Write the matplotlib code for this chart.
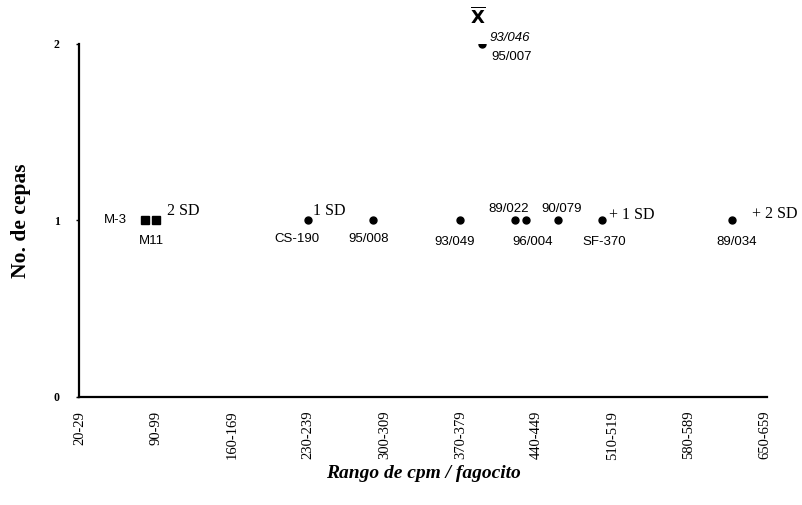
import matplotlib.pyplot as plt

# cpm / phagocyte classes, 10 cpm wide, from 20-29 to 650-659
range_labels = [f"{lo}-{lo + 9}" for lo in range(20, 660, 10)]
shown_labels = ["20-29", "90-99", "160-169", "230-239", "300-309",
                "370-379", "440-449", "510-519", "580-589", "650-659"]

# strains and the class each one falls in
strain_names = ["M-3", "M11", "CS-190", "95/008", "93/049", "93/046 95/007",
                "89/022", "96/004", "90/079", "SF-370", "89/034"]
strain_ranges = ["80-89", "90-99", "230-239", "290-299", "370-379", "390-399",
                 "420-429", "430-439", "460-469", "500-509", "620-629"]
strain_counts = [1, 1, 1, 1, 1, 2, 1, 1, 1, 1, 1]
square_strains = ["M-3", "M11"]

# mean and standard deviation marks
mean_range = "390-399"
sd_labels = ["2 SD", "1 SD", "+ 1 SD", "+ 2 SD"]
sd_ranges = ["90-99", "230-239", "500-509", "620-629"]

xpos = {lab: i for i, lab in enumerate(range_labels)}

fig = plt.figure(figsize=(8.03, 5.05), dpi=100)
ax = fig.add_axes([0.0984, 0.2139, 0.8566, 0.699])

for name, rng, cnt in zip(strain_names, strain_ranges, strain_counts):
    if name in square_strains:
        ax.plot(xpos[rng], cnt, marker="s", ms=6, color="black", ls="none")
    else:
        ax.plot(xpos[rng], cnt, marker="o", ms=5, color="black", ls="none")

sans = dict(family="Liberation Sans", fontsize=9.5, color="black")
serif = dict(family="Liberation Serif", fontsize=11.5, color="black")

# strain name offsets in pixels: (dx, dy, ha)
label_pos = {
    "M-3": (-18, 0, "right"),
    "M11": (-5, -21, "center"),
    "CS-190": (-11, -19, "center"),
    "95/008": (-5, -19, "center"),
    "93/049": (-6, -22, "center"),
    "89/022": (-6, 11, "center"),
    "96/004": (7, -22, "center"),
    "90/079": (3, 11, "center"),
    "SF-370": (3, -22, "center"),
    "89/034": (5, -22, "center"),
}
for name, rng, cnt in zip(strain_names, strain_ranges, strain_counts):
    if name in label_pos:
        dx, dy, ha = label_pos[name]
        ax.annotate(name, (xpos[rng], cnt), xytext=(dx, dy),
                    textcoords="offset pixels", ha=ha, va="center", **sans)
    else:
        top, bottom = name.split()
        ax.annotate(top, (xpos[rng], cnt), xytext=(7, 6),
                    textcoords="offset pixels", ha="left", va="center",
                    style="italic", **sans)
        ax.annotate(bottom, (xpos[rng], cnt), xytext=(9, -13),
                    textcoords="offset pixels", ha="left", va="center", **sans)

sd_offsets = [(11, 9), (5, 9), (7, 5), (20, 6)]
for lab, rng, (dx, dy) in zip(sd_labels, sd_ranges, sd_offsets):
    ax.annotate(lab, (xpos[rng], 1), xytext=(dx, dy),
                textcoords="offset pixels", ha="left", va="center", **serif)

ax.annotate(r"$\overline{\mathsf{\mathbf{X}}}$", (xpos[mean_range], 2),
            xytext=(-4, 27), textcoords="offset pixels", ha="center",
            va="center", fontsize=13, annotation_clip=False)

ax.set_xlim(-0.1, 63.2)
ax.set_ylim(0, 2)
ax.set_xticks([xpos[l] for l in shown_labels])
ax.set_xticklabels(shown_labels, rotation=90, family="Liberation Serif",
                   fontsize=10.5)
ax.set_yticks([0, 1, 2])
ax.set_yticklabels(["0", "1", "2"], family="Liberation Serif",
                   fontsize=8.5, fontweight="bold")
ax.tick_params(axis="x", length=0, pad=10)
ax.tick_params(axis="y", length=2, width=1, pad=12)

for side in ["top", "right"]:
    ax.spines[side].set_visible(False)
for side in ["left", "bottom"]:
    ax.spines[side].set_linewidth(1.6)

ax.set_xlabel("Rango de cpm / fagocito", family="Liberation Serif",
              fontsize=14, fontweight="bold", style="italic", labelpad=4)
ax.set_ylabel("No. de cepas", family="Liberation Serif", fontsize=15.5,
              fontweight="bold", labelpad=16)

fig.savefig("out.png", dpi=100)
